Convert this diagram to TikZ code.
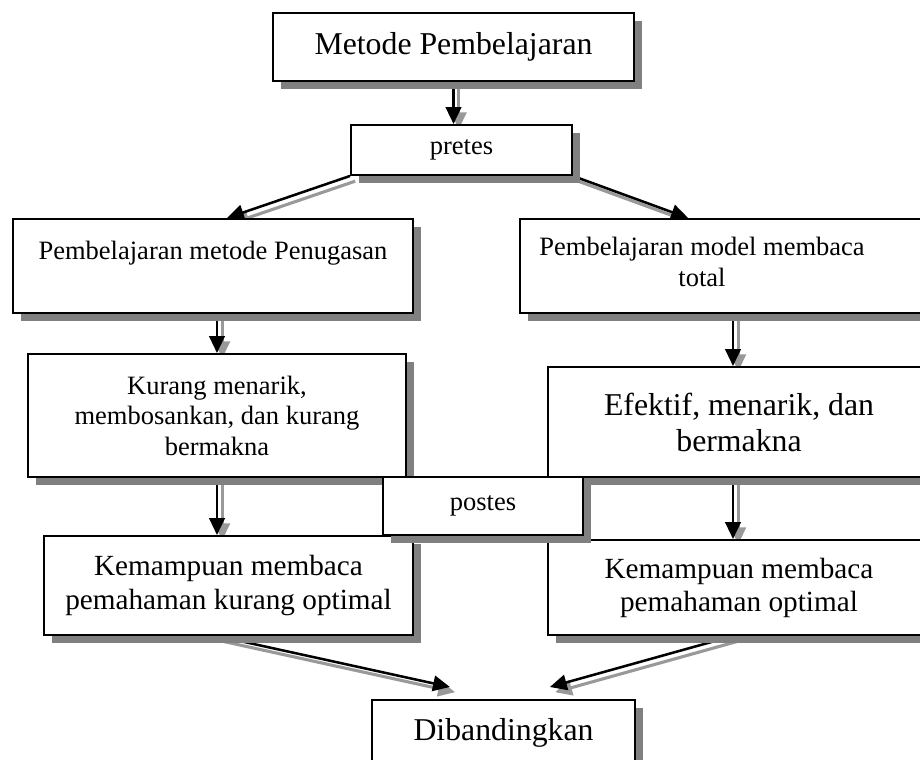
\documentclass[tikz,border=0pt]{standalone}
\usepackage{fontspec}
\setmainfont{Liberation Serif}
\usetikzlibrary{arrows.meta,shadows,calc,backgrounds}

\begin{document}
\begin{tikzpicture}[
    box/.style={draw, line width=1.4pt, fill=white, align=center, inner sep=0pt,
        drop shadow={shadow xshift=0.2cm, shadow yshift=-0.2cm, fill=black!50, opacity=1}},
    smalltxt/.style={font=\fontsize{18.85}{21.7}\selectfont},
    midtxt/.style={font=\fontsize{20.8}{23.5}\selectfont},
    bigtxt/.style={font=\fontsize{22.6}{25.6}\selectfont},
    arr/.style={line width=1.8pt, -{Triangle[length=12pt,width=11pt]},
        preaction={draw=black!40, line width=2.2pt, transform canvas={shift={(0.13,-0.13)}}}}
]
        \useasboundingbox (0,0) rectangle (23,19);
        \clip (0,0) rectangle (23,19);
        \node[box, bigtxt, minimum width=9.025cm, minimum height=1.7cm] (metode) at (11.3375,17.825) {Metode Pembelajaran};
        \node[box, smalltxt, minimum width=5.525cm, minimum height=1.25cm] (pretes) at (11.5375,15.25) {pretes};
        \node[box, smalltxt, minimum width=10cm, minimum height=2.35cm] (penugasan) at (5.325,12.35) {Pembelajaran metode Penugasan\\ \mbox{}};
        \node[box, minimum width=10.25cm, minimum height=2.35cm] (total) at (18.125,12.35) {};
        \node[smalltxt, align=center] (totaltxt) at (17.55,12.45) {Pembelajaran model membaca\\ total};
        \node[box, smalltxt, minimum width=9.45cm, minimum height=3.075cm] (kurang) at (5.425,8.6125) {Kurang menarik,\\ membosankan, dan kurang\\ bermakna};
        \node[box, bigtxt, minimum width=9.55cm, minimum height=2.75cm] (efektif) at (18.475,8.45) {Efektif, menarik, dan\\ bermakna};
        \node[box, midtxt, minimum width=9.225cm, minimum height=2.475cm] (kemkurang) at (5.7125,4.3625) {Kemampuan membaca\\ pemahaman kurang optimal};
        \node[box, midtxt, minimum width=9.55cm, minimum height=2.375cm] (kemopt) at (18.475,4.3125) {Kemampuan membaca\\ pemahaman optimal};
        \node[box, bigtxt, minimum width=6.575cm, minimum height=1.65cm] (dib) at (12.5875,0.675) {Dibandingkan};
        \node[box, smalltxt, minimum width=5cm, minimum height=1.45cm] (postes) at (12.075,6.35) {postes};
        \coordinate (rcol) at (18.325,0);
        \coordinate (dibL) at ($(dib.north)+(-1.34,0.3)$);
        \coordinate (dibR) at ($(dib.north)+(1.16,0.3)$);
        \begin{scope}[on background layer]
        \draw[arr] (metode.south) -- (metode.south |- pretes.north);
        \draw[arr] (pretes.south west) -- ($(penugasan.north)+(0.35,0)$);
        \draw[arr] (pretes.south east) -- ($(total.north)+(-0.925,0)$);
        \draw[arr] (kurang.north |- penugasan.south) -- (kurang.north);
        \draw[arr] (kurang.south) -- (kurang.south |- kemkurang.north);
        \draw[arr] (rcol |- total.south) -- (rcol |- efektif.north);
        \draw[arr] (rcol |- efektif.south) -- (rcol |- kemopt.north);
        \draw[arr] (kurang.south |- kemkurang.south) -- (dibL);
        \draw[arr] (rcol |- kemopt.south) -- (dibR);
        \end{scope}
\end{tikzpicture}
\end{document}
